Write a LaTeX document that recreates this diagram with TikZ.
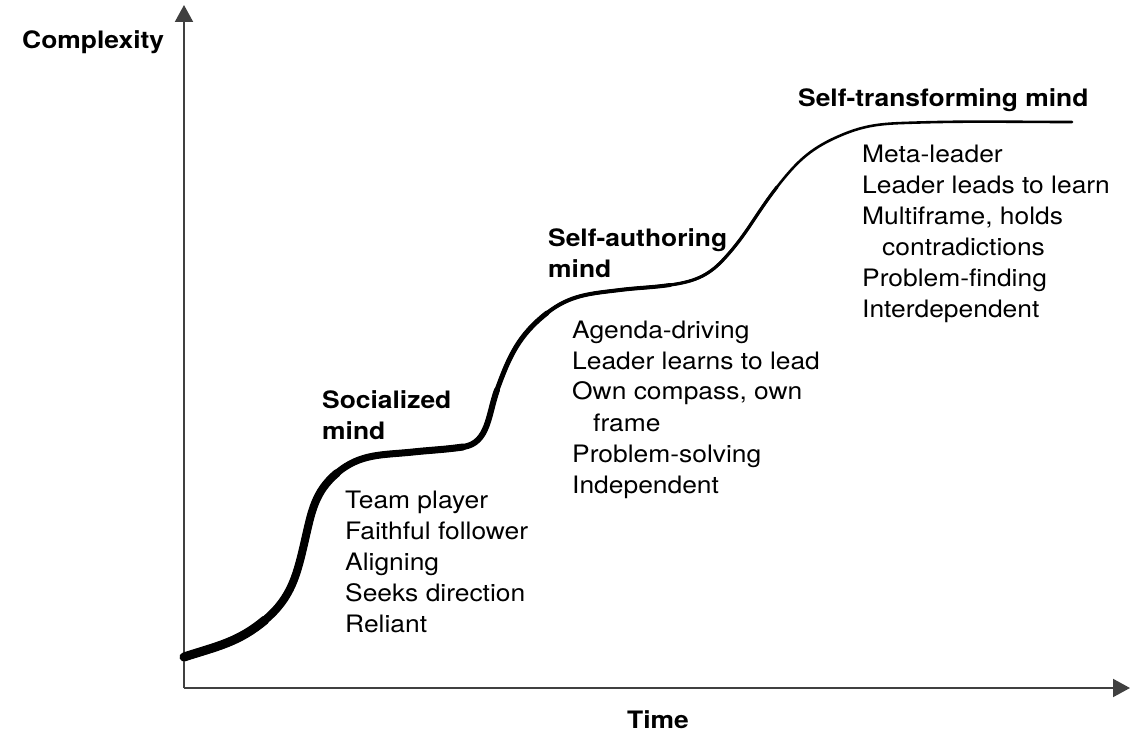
\documentclass[tikz,border=0pt]{standalone}
\usepackage{fontspec}
\setmainfont{TeX Gyre Heros}[FakeStretch=1.1]
\usetikzlibrary{arrows.meta}
\begin{document}
\begin{tikzpicture}[x=1pt,y=1pt,
  axis/.style={draw=black!75,line width=2pt,-{Triangle[length=17pt,width=18pt]}},
  crv/.style={line cap=round,line join=round,line width=#1},
  head/.style={font=\bfseries\fontsize{24}{31}\selectfont,anchor=base west,inner sep=0pt,align=left},
  item/.style={font=\fontsize{24}{31}\selectfont,anchor=base west,inner sep=0pt,align=left}]
\useasboundingbox (0,0) rectangle (1136,732);
% axes
\coordinate (O) at (184,44);
\coordinate (ytip) at (184,727);
\coordinate (xtip) at (1130,44);
\draw[axis] (O) -- (ytip);
\draw[axis] (O) -- (xtip);
\node[head] (ylab) at (22,683) {Complexity};
\node[head,anchor=base] (xlab) at (658,4) {Time};
% curve points
\coordinate (c0) at (184,75);
\coordinate (c1) at (265,112);
\coordinate (c2) at (305,192);
\coordinate (c3) at (337,259);
\coordinate (c4) at (413,280);
\coordinate (c5) at (463,285);
\coordinate (c7) at (497,342);
\coordinate (c8) at (547,419);
\coordinate (c9) at (620,442);
\coordinate (c10) at (670,447);
\coordinate (c11) at (723,472);
\coordinate (c12) at (777,545);
\coordinate (c13) at (837,595);
\coordinate (c14) at (903,609);
\coordinate (c15) at (1072,610);
\draw[crv=2.6pt] (c0) to[out=18,in=220] (c1) to[out=40,in=257] (c2) to[out=77,in=220] (c3)
  to[out=40,in=186] (c4) to[out=6,in=188] (c5) to[out=8,in=250] (c7)
  to[out=70,in=218] (c8) to[out=38,in=187] (c9) to[out=7,in=188] (c10) to[out=8,in=227] (c11)
  to[out=47,in=232] (c12) to[out=52,in=204] (c13) to[out=24,in=182] (c14) to[out=2,in=180] (c15);
\draw[crv=3.2pt] (c0) to[out=18,in=220] (c1) to[out=40,in=257] (c2) to[out=77,in=220] (c3)
  to[out=40,in=186] (c4) to[out=6,in=188] (c5) to[out=8,in=250] (c7)
  to[out=70,in=218] (c8) to[out=38,in=187] (c9) to[out=7,in=188] (c10) to[out=8,in=227] (c11)
  to[out=47,in=232] (c12);
\draw[crv=4pt] (c0) to[out=18,in=220] (c1) to[out=40,in=257] (c2) to[out=77,in=220] (c3)
  to[out=40,in=186] (c4) to[out=6,in=188] (c5) to[out=8,in=250] (c7)
  to[out=70,in=218] (c8) to[out=38,in=187] (c9) to[out=7,in=188] (c10);
\draw[crv=5pt] (c0) to[out=18,in=220] (c1) to[out=40,in=257] (c2) to[out=77,in=220] (c3)
  to[out=40,in=186] (c4) to[out=6,in=188] (c5) to[out=8,in=250] (c7)
  to[out=70,in=218] (c8);
\draw[crv=6pt] (c0) to[out=18,in=220] (c1) to[out=40,in=257] (c2) to[out=77,in=220] (c3)
  to[out=40,in=186] (c4) to[out=6,in=188] (c5) to[out=8,in=250] (c7);
\draw[crv=7pt] (c0) to[out=18,in=220] (c1) to[out=40,in=257] (c2) to[out=77,in=220] (c3)
  to[out=40,in=186] (c4) to[out=6,in=188] (c5);
\draw[crv=8pt] (c0) to[out=18,in=220] (c1) to[out=40,in=257] (c2) to[out=77,in=220] (c3);
\draw[crv=9pt] (c0) to[out=18,in=220] (c1);
% labels (base anchor = baseline of last line)
\node[head] (soc) at (322,292) {Socialized\\mind};
\node[item] (soclist) at (345,100) {Team player\\Faithful follower\\Aligning\\Seeks direction\\Reliant};
\node[head] (auth) at (548,454) {Self-authoring\\mind};
\node[item] (authlist) at (572,239) {Agenda-driving\\Leader learns to lead\\Own compass, own\\\hspace*{21pt}frame\\Problem-solving\\Independent};
\node[head] (trans) at (798,625) {Self-transforming mind};
\node[item] (translist) at (862,414) {Meta-leader\\Leader leads to learn\\Multiframe, holds\\\hspace*{20pt}contradictions\\Problem-finding\\Interdependent};
\end{tikzpicture}
\end{document}
